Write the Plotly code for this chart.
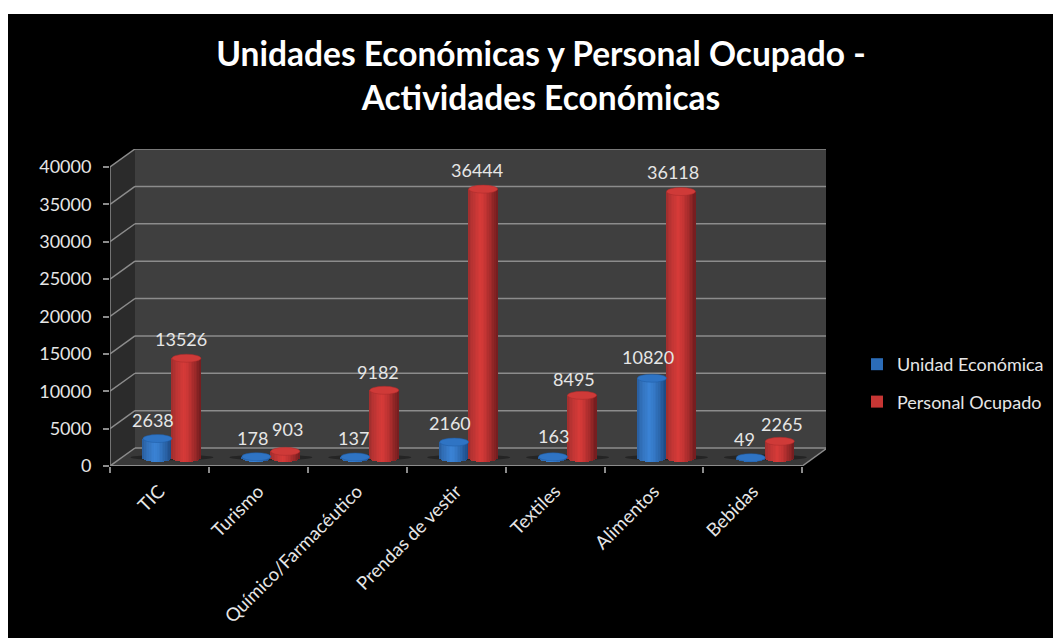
import math
import plotly.graph_objects as go

categories = ["TIC", "Turismo", "Químico/Farmacéutico", "Prendas de vestir", "Textiles", "Alimentos", "Bebidas"]
unidad_economica = [2638, 178, 137, 2160, 163, 10820, 49]
personal_ocupado = [13526, 903, 9182, 36444, 8495, 36118, 2265]
y_ticks = [0, 5000, 10000, 15000, 20000, 25000, 30000, 35000, 40000]

# layout geometry (pixels of the 1053x638 page)
W, H = 1053, 638
L, R, T, B = 110, 826, 149, 466
CAT_PX = 98.9
Y_PX = 299 / 40000
DX = 25 / CAT_PX            # depth offset of the back wall, in category units
DY = 18 / Y_PX              # depth offset of the back wall, in value units
x_max = -0.5 + (R - L) / CAT_PX
y_max = (B - T) / Y_PX
BAR_W = 29 / CAT_PX
GROUP_SHIFT = 12.5 / CAT_PX
BASE = 8 / Y_PX
DEPTH_SCALE = 0.987
CAP_H = 4 / Y_PX            # half height of the elliptical caps
N_STRIPS = 18

GRID = "#8c8c8c"
TEXT = "#e6e6e6"
FONT = "Lato, Carlito, sans-serif"


def shade(edge, mid, hi, t):
    # t from 0 (left) to 1 (right); brightest a little left of centre
    pk = 0.42
    if t < pk:
        f = (t / pk) ** 0.6
        a, b = edge, hi
    else:
        f = ((t - pk) / (1 - pk)) ** 1.4
        a, b = hi, mid
    return "rgb(%d,%d,%d)" % tuple(round(a[i] + (b[i] - a[i]) * f) for i in range(3))


series = [
    dict(name="Unidad Económica", values=unidad_economica, start=GROUP_SHIFT - BAR_W,
         edge=(38, 88, 150), hi=(58, 130, 212), low=(28, 72, 128), cap="#2f74c4", rim="#1f5aa3",
         legend="#2b6cb8", dx=[-4.5, -4, -2, -4, 0, -4, -6], dy=[0, 0, 0, 0, 2, 2, 0]),
    dict(name="Personal Ocupado", values=personal_ocupado, start=GROUP_SHIFT,
         edge=(150, 44, 44), hi=(214, 58, 56), low=(112, 28, 30), cap="#cf3a38", rim="#a82a2a",
         legend="#c73634", dx=[-5, 2, -6, -6, -8, -8, 2], dy=[0, 3, -1, 0, -3, 1, -2]),
]

shapes = []
# black slide background
px = lambda v: (v - L) / (R - L)
py = lambda v: (B - v) / (B - T)
shapes.append(dict(type="rect", xref="paper", yref="paper", x0=px(8), x1=px(W), y0=py(14), y1=py(H),
                   fillcolor="black", line_width=0, layer="below"))
x0 = -0.5
x1 = -0.5 + 7
# back wall, side wall, floor
shapes.append(dict(type="path", xref="x", yref="y", layer="below", fillcolor="#3f3f3f", line_width=0,
                   path=f"M{x0+DX},{DY} L{x1+DX},{DY} L{x1+DX},{40000+DY} L{x0+DX},{40000+DY} Z"))
shapes.append(dict(type="path", xref="x", yref="y", layer="below", fillcolor="#2b2b2b", line_width=0,
                   path=f"M{x0},0 L{x0+DX},{DY} L{x0+DX},{40000+DY} L{x0},40000 Z"))
shapes.append(dict(type="path", xref="x", yref="y", layer="below", fillcolor="#383838", line_width=0,
                   path=f"M{x0},0 L{x1},0 L{x1+DX},{DY} L{x0+DX},{DY} Z"))
for t in y_ticks:
    shapes.append(dict(type="line", xref="x", yref="y", layer="below", x0=x0, y0=t, x1=x0 + DX, y1=t + DY,
                       line=dict(color=GRID, width=1.5)))
    shapes.append(dict(type="line", xref="x", yref="y", layer="below", x0=x0 + DX, y0=t + DY, x1=x1 + DX, y1=t + DY,
                       line=dict(color=GRID, width=1.5)))
# axis lines
shapes.append(dict(type="line", xref="x", yref="y", layer="below", x0=x0, y0=0, x1=x0, y1=40000,
                   line=dict(color=GRID, width=1.5)))
shapes.append(dict(type="line", xref="x", yref="y", layer="below", x0=x0, y0=0, x1=x1, y1=0,
                   line=dict(color=GRID, width=2)))
shapes.append(dict(type="line", xref="x", yref="y", layer="below", x0=x1, y0=0, x1=x1 + DX, y1=DY,
                   line=dict(color=GRID, width=1.5)))
# soft shadows on the floor
for i in range(len(categories)):
    c = i + GROUP_SHIFT
    shapes.append(dict(type="circle", xref="x", yref="y", layer="below",
                       x0=c - 0.42, x1=c + 0.42, y0=BASE - 0.55 * CAP_H, y1=BASE + 0.85 * CAP_H,
                       fillcolor="rgba(0,0,0,0.35)", line_width=0))

fig = go.Figure()
annotations = []
for s in series:
    # the cylinders: vertical strips whose feet follow the front arc of the base
    for k in range(N_STRIPS):
        t0 = k / N_STRIPS
        tm = (k + 0.5) / N_STRIPS
        arc = CAP_H * math.sqrt(max(0.0, 1 - (2 * tm - 1) ** 2))
        fig.add_trace(go.Bar(
            x=categories,
            y=[v * DEPTH_SCALE + arc for v in s["values"]],
            base=BASE - arc,
            width=BAR_W / N_STRIPS * 1.08,
            offset=s["start"] + t0 * BAR_W,
            marker=dict(color=shade(s["edge"], s["low"], s["hi"], tm), line_width=0),
            showlegend=False, hoverinfo="skip",
        ))
    # legend entry
    fig.add_trace(go.Bar(x=[categories[0]], y=[0], name=s["name"], legendgroup=s["name"],
                         marker=dict(color=s["legend"], line_width=0), hoverinfo="skip"))
    for i, v in enumerate(s["values"]):
        top = BASE + v * DEPTH_SCALE
        cx = i + s["start"] + BAR_W / 2
        shapes.append(dict(type="circle", xref="x", yref="y", layer="above",
                           x0=cx - BAR_W / 2, x1=cx + BAR_W / 2, y0=top - CAP_H, y1=top + CAP_H,
                           fillcolor=s["cap"], line=dict(color=s["rim"], width=0.5)))
        annotations.append(dict(x=cx, y=top, xref="x", yref="y", text=str(v), showarrow=False,
                                xanchor="center", yanchor="middle",
                                xshift=s["dx"][i], yshift=19 + s["dy"][i],
                                font=dict(family=FONT, size=18, color=TEXT)))

fig.update_layout(
    width=W, height=H, autosize=False,
    margin=dict(l=L, r=W - R, t=T, b=H - B, pad=0, autoexpand=False),
    paper_bgcolor="white", plot_bgcolor="rgba(0,0,0,0)",
    barmode="overlay", bargap=0,
    shapes=shapes, annotations=annotations,
    font=dict(family=FONT, color=TEXT),
    title=dict(text="<b>Unidades Económicas y Personal Ocupado -<br>Actividades Económicas</b>",
               x=541 / W, xanchor="center", xref="container", yref="container", y=1 - 66 / H, yanchor="top",
               font=dict(family=FONT, size=33.5, color="white")),
    legend=dict(x=(857 - L) / (R - L), y=py(346), xanchor="left", yanchor="top",
                font=dict(family=FONT, size=18, color=TEXT), bgcolor="rgba(0,0,0,0)",
                traceorder="grouped", tracegroupgap=11, itemclick=False, itemdoubleclick=False),
    xaxis=dict(type="category", categoryorder="array", categoryarray=categories,
               range=[-0.5, x_max], tickson="boundaries", ticks="outside", ticklen=6, tickwidth=1.5,
               tickcolor=GRID, tickangle=-45, showgrid=False, zeroline=False, showline=False,
               automargin=False, ticklabelstandoff=10, tickfont=dict(family=FONT, size=18.5, color=TEXT)),
    yaxis=dict(range=[0, y_max], tickvals=y_ticks, ticktext=[str(t) for t in y_ticks],
               ticks="outside", ticklen=6, tickwidth=1.5, tickcolor=GRID, showgrid=False, zeroline=False,
               showline=False, automargin=False, ticklabelstandoff=8, tickfont=dict(family=FONT, size=18, color=TEXT)),
)

fig.write_html("out.html", config=dict(displayModeBar=False),
               post_script="document.body.style.margin='0';document.documentElement.style.overflow='hidden';")
